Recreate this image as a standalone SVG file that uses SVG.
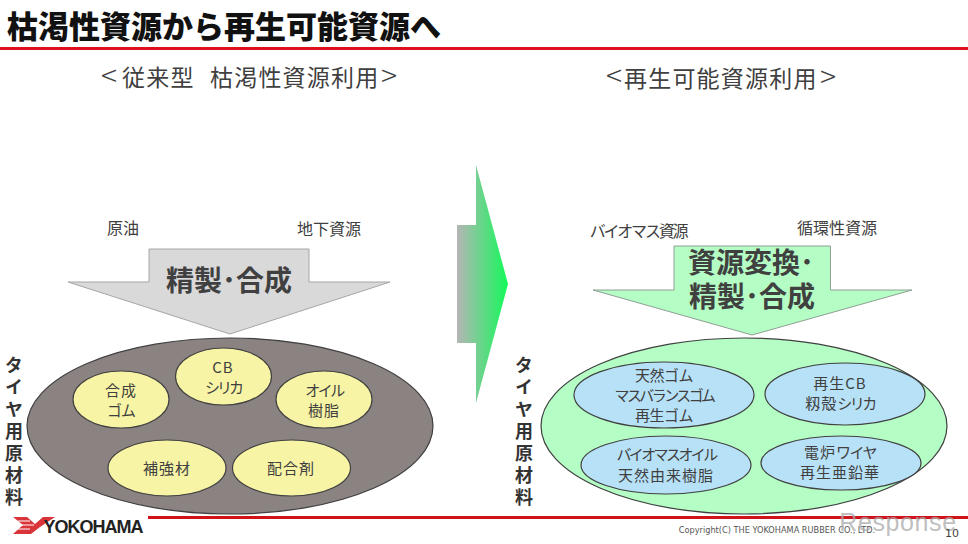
<svg xmlns="http://www.w3.org/2000/svg" width="968" height="544" viewBox="0 0 968 544">
<style>
text{font-family:"Noto Sans CJK JP","Noto Sans",sans-serif;fill:#404040;text-anchor:middle}
.l{font-size:15px;letter-spacing:1px}
.h{font-size:23px;text-anchor:start;letter-spacing:1.2px}
.p{font-size:30px;font-weight:300;text-anchor:start}
.src{font-size:16px}
.big{font-size:28px;font-weight:700}
.v{font-size:18px;font-weight:700;fill:#333;text-anchor:start;writing-mode:vertical-rl;letter-spacing:4px}
.y{fill:#f7f4a5;stroke:#404040;stroke-width:1.2}
.g{fill:#b7e1f7;stroke:#404040;stroke-width:1.2}
</style>
<defs><linearGradient id="ga" x1="0" x2="1" y1="0" y2="0"><stop offset="0" stop-color="#b5b5b5"/><stop offset="1" stop-color="#12f95a"/></linearGradient></defs>
<rect width="968" height="544" fill="#fff"/>
<g id="title"><text x="7" y="38" style="font-size:31px;text-anchor:start;fill:#111;font-weight:900">枯渇性資源から再生可能資源へ</text><rect x="0" y="47" width="968" height="3" fill="#e0101c"/></g>
<g id="heading-left"><text x="101" y="87" class="p">&lt;</text><text x="122" y="86" class="h">従来型</text><text x="210" y="86" class="h">枯渇性資源利用</text><text x="381" y="87" class="p">&gt;</text></g>
<g id="heading-right"><text x="606" y="87" class="p">&lt;</text><text x="624" y="87" class="h">再生可能資源利用</text><text x="820" y="88" class="p">&gt;</text></g>
<g id="connectors">
<polygon id="arrow-main" points="457,225 476,225 476,165 508,284 476,403 476,343 457,343" fill="url(#ga)"/>
</g>
<g id="left-process"><polygon points="149,249 309,249 309,282 390,282 230,334 68,282 149,282" fill="#d9d9d9" stroke="#a6a6a6"/><text x="229" y="291" class="big">精製･合成</text></g>
<text x="123" y="234" class="src">原油</text><text x="329" y="235" class="src">地下資源</text>
<g id="right-process"><polygon points="674,246 830.5,246 830.5,290 912,290 752,335 593,290 674,290" fill="#b4fdc4" stroke="#8f9f94"/><text x="751" y="273" class="big">資源変換･</text><text x="752" y="307" class="big">精製･合成</text></g>
<text x="638" y="237" class="src" style="letter-spacing:-2.2px">バイオマス資源</text><text x="837" y="234" class="src">循環性資源</text>
<g id="left-label"><text x="14" y="356" class="v">タイヤ用原材料</text></g>
<g id="right-label"><text x="524" y="356" class="v">タイヤ用原材料</text></g>
<g id="left-group"><ellipse cx="230" cy="426" rx="203" ry="88" fill="#8b8282" stroke="#404040" stroke-width="1.2"/></g>
<g id="n-gomu"><ellipse class="y" cx="121" cy="399.5" rx="48" ry="28.5"/><text x="121" y="396" class="l">合成</text><text x="121" y="416" class="l" style="letter-spacing:-1px">ゴム</text></g>
<g id="n-cb"><ellipse class="y" cx="223.5" cy="376.5" rx="48" ry="28.5"/><text x="223" y="373" class="l">CB</text><text x="223" y="393" class="l" style="letter-spacing:-3px">シリカ</text></g>
<g id="n-oil"><ellipse class="y" cx="324" cy="399.5" rx="48" ry="28.5"/><text x="324" y="396" class="l" style="letter-spacing:-2.5px">オイル</text><text x="324" y="416" class="l">樹脂</text></g>
<g id="n-hokyo"><ellipse class="y" cx="167" cy="468" rx="59" ry="28"/><text x="167" y="474" class="l">補強材</text></g>
<g id="n-haigo"><ellipse class="y" cx="291.5" cy="468" rx="59" ry="28"/><text x="291" y="474" class="l">配合剤</text></g>
<g id="right-group"><ellipse cx="744" cy="426" rx="203" ry="88" fill="#b4fdc4" stroke="#404040" stroke-width="1.2"/></g>
<g id="n-tennen"><ellipse class="g" cx="664" cy="395" rx="90" ry="33"/><text x="664" y="381" class="l" style="letter-spacing:-.5px">天然ゴム</text><text x="664" y="401" class="l" style="letter-spacing:-2.6px">マスバランスゴム</text><text x="664" y="421" class="l" style="letter-spacing:-.5px">再生ゴム</text></g>
<g id="n-saisei"><ellipse class="g" cx="845" cy="394" rx="80" ry="31"/><text x="840" y="389" class="l">再生CB</text><text x="840" y="409" class="l"><tspan>籾殻</tspan><tspan style="letter-spacing:-2.5px">シリカ</tspan></text></g>
<g id="n-bio"><ellipse class="g" cx="666" cy="465" rx="85" ry="29"/><text x="666" y="460" class="l" style="letter-spacing:-2.6px">バイオマスオイル</text><text x="666" y="481" class="l">天然由来樹脂</text></g>
<g id="n-denro"><ellipse class="g" cx="841" cy="463" rx="80" ry="27"/><text x="840" y="458" class="l"><tspan>電炉</tspan><tspan style="letter-spacing:-1.5px">ワイヤ</tspan></text><text x="840" y="478" class="l">再生亜鉛華</text></g>
<g id="footer">
<rect x="148" y="516" width="820" height="3" fill="#d0121b"/>
<polygon points="13,517 27,517 35,524 43,517 55,517 40,527 31,534 13,534 23,525" fill="#d8343a"/>
<path d="M18,521H30M21,525H34M18,529H30" stroke="#fff" stroke-width="1"/>
<text x="93" y="533" style="font-family:'Liberation Sans',sans-serif;font-size:18px;font-weight:700;fill:#222;letter-spacing:-1px">YOKOHAMA</text>
<text x="777" y="533" style="font-family:'DejaVu Sans',sans-serif;font-size:8.2px;fill:#555">Copyright(C) THE YOKOHAMA RUBBER CO., LTD.</text>
<text x="898" y="531" style="font-family:'Liberation Sans',sans-serif;font-size:25px;fill:#aaa;fill-opacity:.75;letter-spacing:.6px">Response</text>
<text x="952" y="537" style="font-family:'DejaVu Sans',sans-serif;font-size:11px;fill:#444">10</text>
</g>
</svg>
